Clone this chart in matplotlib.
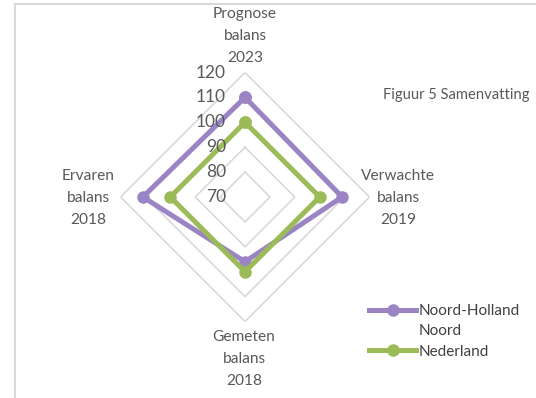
import numpy as np
import matplotlib
matplotlib.use("Agg")
import matplotlib.pyplot as plt
from matplotlib.lines import Line2D
import matplotlib.transforms as mtransforms

plt.rcParams['font.family'] = ['Lato', 'DejaVu Sans']

categories = ["Prognose\nbalans\n2023", "Verwachte\nbalans\n2019",
              "Gemeten\nbalans\n2018", "Ervaren\nbalans\n2018"]
series_names = ["Noord-Holland", "Nederland"]
series_name_cont = "Noord"
nhn_values = [110, 109, 96, 111]
nl_values = [100, 100, 100, 100]
r_ticks = [70, 80, 90, 100, 110, 120]
title = "Figuur 5 Samenvatting"

colors = ["#9A84C4", "#9BBB59"]
text_color = "#595959"
grid_color = "#D9D9D9"

W, H = 536, 398
fig = plt.figure(figsize=(W / 100, H / 100), dpi=100)

cx, cy, rad = 245, 197, 124.5
ax = fig.add_axes([(cx - rad) / W, 1 - (cy + rad) / H, 2 * rad / W, 2 * rad / H],
                  projection='polar')
ax.set_theta_zero_location('N')
ax.set_theta_direction(-1)
ax.set_ylim(r_ticks[0], r_ticks[-1])
ax.set_xticks([])
ax.set_yticks([])
ax.grid(False)
ax.spines['polar'].set_visible(False)
ax.patch.set_alpha(0)

n = len(categories)
angles = np.linspace(0, 2 * np.pi, n, endpoint=False)
closed = np.concatenate([angles, angles[:1]])

# diamond grid
for r in r_ticks[1:]:
    ax.plot(closed, [r] * (n + 1), color=grid_color, lw=1.2, zorder=1)

# series
handles = []
for vals, col, name in zip([nhn_values, nl_values], colors, series_names):
    v = list(vals) + [vals[0]]
    h, = ax.plot(closed, v, color=col, lw=3.6, marker='o', markersize=8,
                 solid_joinstyle='miter', label=name, zorder=3)
    handles.append(h)

# radial tick labels
for r in r_ticks:
    tr = mtransforms.offset_copy(ax.transData, fig=fig, x=-19, y=0, units='dots')
    ax.text(0, r, str(r), transform=tr, ha='right', va='center',
            fontsize=12.5, color=text_color, zorder=4)

# category labels
label_pos = [(245, 36), (398, 198), (244, 359), (88, 198)]
for lab, (x, y) in zip(categories, label_pos):
    fig.text(x / W, 1 - y / H, lab, ha='center', va='center', fontsize=11.2,
             color=text_color, linespacing=1.72)

fig.text(456 / W, 1 - 95 / H, title, ha='center', va='center', fontsize=10.6,
         color=text_color)

blank = Line2D([], [], color='none')
leg = fig.legend([handles[0], blank, handles[1]],
                 [series_names[0], series_name_cont, series_names[1]],
                 loc='upper left', bbox_to_anchor=(369 / W, 1 - 304 / H),
                 frameon=False, handlelength=3.1, handletextpad=0.15,
                 labelspacing=0.42, borderpad=0, borderaxespad=0,
                 fontsize=11, labelcolor='#404040')

# chart frame edges
fig.add_artist(Line2D([15 / W, 15 / W], [0, 1 - 3.5 / H], color=grid_color, lw=1.5,
                      transform=fig.transFigure))
fig.add_artist(Line2D([15 / W, 1], [1 - 3.5 / H, 1 - 3.5 / H], color=grid_color, lw=1.5,
                      transform=fig.transFigure))

fig.savefig("out.png", dpi=100, facecolor='white')
